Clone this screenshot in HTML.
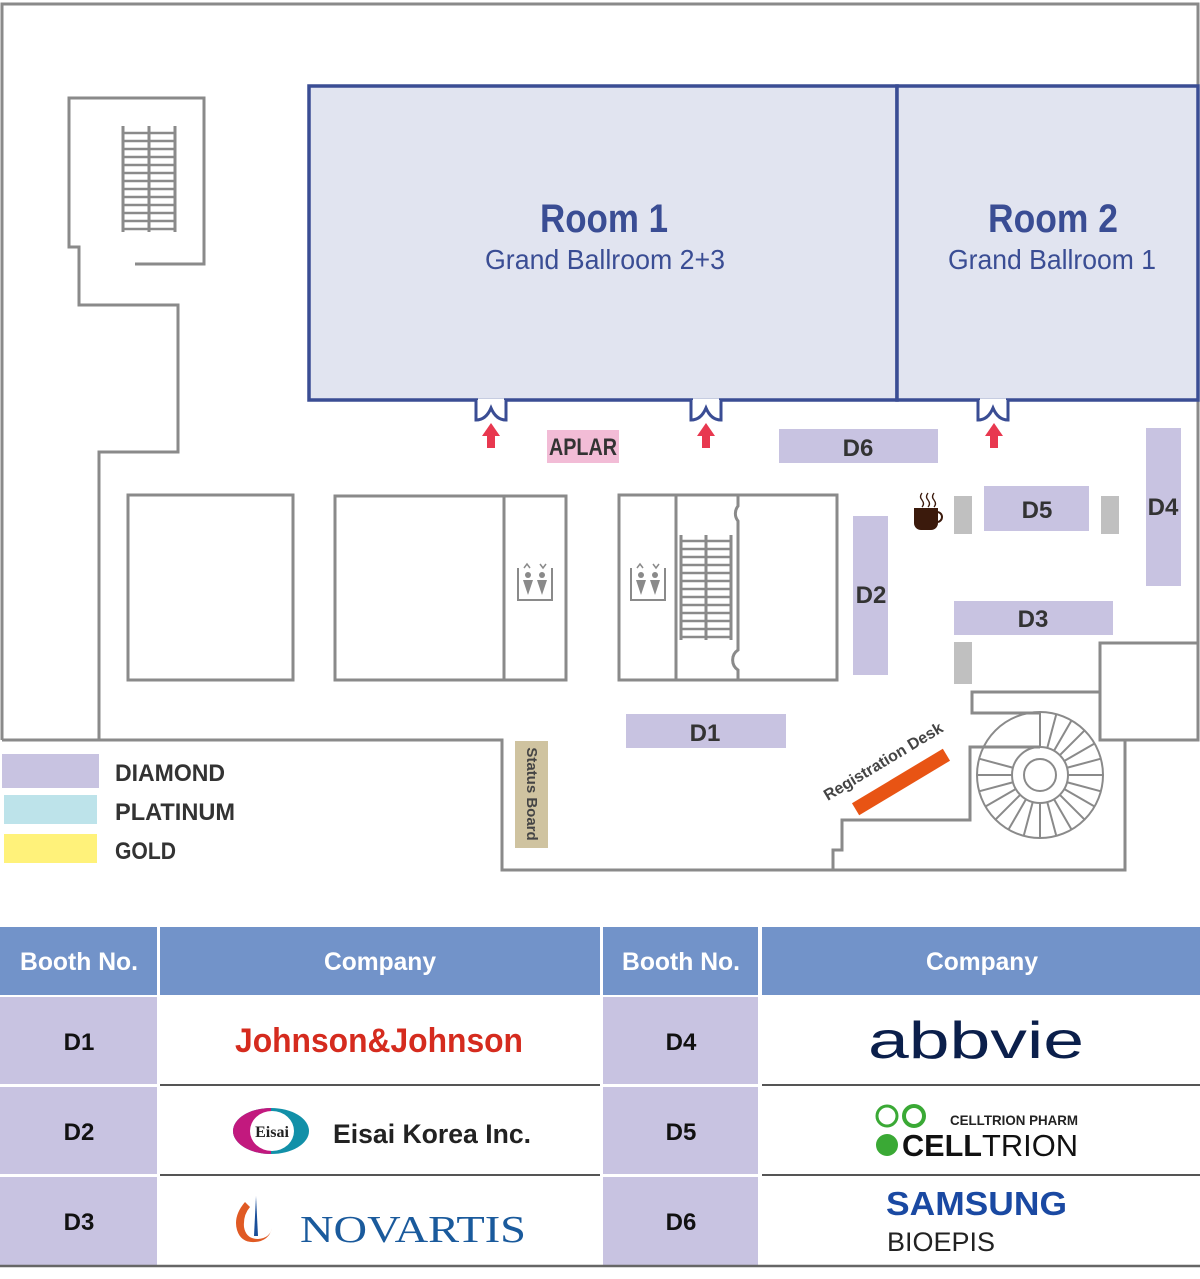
<!DOCTYPE html>
<html><head><meta charset="utf-8"><style>
html,body{margin:0;padding:0;background:#fff}
svg{display:block}
text{font-family:"Liberation Sans",sans-serif}
</style></head><body>
<svg width="1200" height="1279" viewBox="0 0 1200 1279" xmlns="http://www.w3.org/2000/svg">
<g fill="none" stroke="#8a8a8a" stroke-width="3">
<polyline points="2,740 2,4 1198,4 1198,643"/>
<polyline points="2,740 502,740 502,870 1125,870 1125,740"/>
<polyline points="135,264 204,264 204,98 69,98 69,247 79,247 79,305 178,305 178,452 99,452 99,740"/>
<rect x="128" y="495" width="165" height="185"/>
<rect x="335" y="496" width="231" height="184"/>
<line x1="504" y1="496" x2="504" y2="680"/>
<path d="M738,495 H619 V680 H738 V670 A12,12 0 0 1 738,650 V521 A12,12 0 0 1 738,506 Z"/>
<path d="M738,495 H837 V680 H738"/>
<line x1="676" y1="495" x2="676" y2="680"/>
<rect x="1100" y="643" width="98" height="97"/>
<polyline points="1100,692 972,692 972,713 1040,713"/>
<polyline points="833,870 833,850 842,850 842,820 970,820 970,747 1040,747"/>
</g>
<g stroke="#8a8a8a" stroke-width="3">
<line x1="123" y1="126" x2="123" y2="232"/><line x1="149" y1="126" x2="149" y2="232"/><line x1="175" y1="126" x2="175" y2="232"/>
<path d="M123,133H175M123,141H175M123,149H175M123,157H175M123,165H175M123,173H175M123,181H175M123,189H175M123,197H175M123,205H175M123,213H175M123,221H175M123,229H175" stroke-width="2.5"/>
<line x1="681" y1="535" x2="681" y2="640"/><line x1="706" y1="535" x2="706" y2="640"/><line x1="731" y1="535" x2="731" y2="640"/>
<path d="M681,541H731M681,549H731M681,557H731M681,565H731M681,573H731M681,581H731M681,589H731M681,597H731M681,605H731M681,613H731M681,621H731M681,629H731M681,637H731" stroke-width="2.5"/>
</g>
<g fill="none" stroke="#8a8a8a" stroke-width="2">
<circle cx="1040" cy="775" r="63"/><circle cx="1040" cy="775" r="16"/><circle cx="1040" cy="775" r="28"/>
<g id="sp">
<line x1="1068" y1="775" x2="1103" y2="775"/>
</g>
<use href="#sp" transform="rotate(15 1040 775)"/><use href="#sp" transform="rotate(30 1040 775)"/><use href="#sp" transform="rotate(45 1040 775)"/><use href="#sp" transform="rotate(60 1040 775)"/><use href="#sp" transform="rotate(75 1040 775)"/><use href="#sp" transform="rotate(90 1040 775)"/><use href="#sp" transform="rotate(105 1040 775)"/><use href="#sp" transform="rotate(120 1040 775)"/><use href="#sp" transform="rotate(135 1040 775)"/><use href="#sp" transform="rotate(150 1040 775)"/><use href="#sp" transform="rotate(165 1040 775)"/><use href="#sp" transform="rotate(180 1040 775)"/><use href="#sp" transform="rotate(195 1040 775)"/><use href="#sp" transform="rotate(-15 1040 775)"/><use href="#sp" transform="rotate(-30 1040 775)"/><use href="#sp" transform="rotate(-45 1040 775)"/><use href="#sp" transform="rotate(-60 1040 775)"/><use href="#sp" transform="rotate(-75 1040 775)"/><use href="#sp" transform="rotate(-90 1040 775)"/>
</g>
<rect x="309" y="86" width="588" height="314" fill="#e1e4f0" stroke="#3a4d94" stroke-width="3.5"/>
<rect x="897" y="86" width="301" height="314" fill="#e1e4f0" stroke="#3a4d94" stroke-width="3.5"/>
<g fill="#fff" stroke="#3a4d94" stroke-width="3">
<path d="M476,400 V420 Q486,420 491,408 Q496,420 506,420 V400"/>
<path d="M691,400 V420 Q701,420 706,408 Q711,420 721,420 V400"/>
<path d="M978,400 V420 Q988,420 993,408 Q998,420 1008,420 V400"/>
</g>
<line x1="478" y1="400" x2="504" y2="400" stroke="#fff" stroke-width="3"/>
<line x1="693" y1="400" x2="719" y2="400" stroke="#fff" stroke-width="3"/>
<line x1="980" y1="400" x2="1006" y2="400" stroke="#fff" stroke-width="3"/>
<g fill="#e8384f">
<path d="M491,423 L500,436 H495 V448 H487 V436 H482 Z"/>
<path d="M706,423 L715,436 H710 V448 H702 V436 H697 Z"/>
<path d="M994,423 L1003,436 H998 V448 H990 V436 H985 Z"/>
</g>
<g fill="#3a4d94" text-anchor="middle">
<text x="604" y="232" font-size="40" font-weight="bold" textLength="128" lengthAdjust="spacingAndGlyphs">Room 1</text>
<text x="605" y="269" font-size="28" textLength="240" lengthAdjust="spacingAndGlyphs">Grand Ballroom 2+3</text>
<text x="1053" y="232" font-size="40" font-weight="bold" textLength="130" lengthAdjust="spacingAndGlyphs">Room 2</text>
<text x="1052" y="269" font-size="28" textLength="208" lengthAdjust="spacingAndGlyphs">Grand Ballroom 1</text>
</g>
<rect x="547" y="430" width="72" height="33" fill="#f2bcd6"/>
<g fill="#c8c3e1">
<rect x="779" y="429" width="159" height="34"/>
<rect x="853" y="516" width="35" height="159"/>
<rect x="984" y="486" width="105" height="45"/>
<rect x="1146" y="428" width="35" height="158"/>
<rect x="954" y="601" width="159" height="34"/>
<rect x="626" y="714" width="160" height="34"/>
<rect x="2" y="754" width="97" height="34"/>
</g>
<rect x="4" y="795" width="93" height="29" fill="#bde3ea"/>
<rect x="4" y="834" width="93" height="29" fill="#fff27a"/>
<g fill="#c0c0c0">
<rect x="954" y="496" width="18" height="38"/><rect x="1101" y="496" width="18" height="38"/><rect x="954" y="642" width="18" height="42"/>
</g>
<rect x="515" y="741" width="33" height="107" fill="#cfc3a0"/>
<text transform="translate(527,794) rotate(90)" font-size="15" font-weight="bold" fill="#444" text-anchor="middle">Status Board</text>
<g font-weight="bold" fill="#333" text-anchor="middle" font-size="24">
<text x="583" y="455" textLength="68" lengthAdjust="spacingAndGlyphs">APLAR</text>
<text x="858" y="456">D6</text>
<text x="871" y="603">D2</text>
<text x="1037" y="518">D5</text>
<text x="1163" y="515">D4</text>
<text x="1033" y="627">D3</text>
<text x="705" y="741">D1</text>
</g>
<g font-weight="bold" fill="#333" font-size="24">
<text x="115" y="781" textLength="110" lengthAdjust="spacingAndGlyphs">DIAMOND</text>
<text x="115" y="820" textLength="120" lengthAdjust="spacingAndGlyphs">PLATINUM</text>
<text x="115" y="859" textLength="61" lengthAdjust="spacingAndGlyphs">GOLD</text>
</g>
<rect x="848" y="775" width="106" height="14" fill="#e85414" transform="rotate(-31 901 782)"/>
<text transform="translate(886,766) rotate(-31)" font-size="16" font-weight="bold" fill="#444" text-anchor="middle">Registration Desk</text>
<g>
<path d="M915,509 h22 v14 a6,6 0 0 1 -6,6 h-10 a6,6 0 0 1 -6,-6 z" fill="#3b1a0c" stroke="#3b1a0c" stroke-width="2"/>
<path d="M937,512 a5,5 0 0 1 0,10" fill="none" stroke="#3b1a0c" stroke-width="2"/>
<path d="M922,493 q-3,4 0,7 q3,4 0,7 M928,493 q-3,4 0,7 q3,4 0,7 M934,493 q-3,4 0,7 q3,4 0,7" fill="none" stroke="#3b1a0c" stroke-width="1.3"/>
</g>
<g id="elev" stroke="#8a8a8a" fill="#8a8a8a">
<path d="M518,568 V600 H552 V568" fill="none" stroke-width="2"/>
<path d="M524,568 l3,-4 l3,4 M540,564 l3,4 l3,-4" fill="none" stroke-width="1.5"/>
<circle cx="528" cy="575" r="3" stroke="none"/><circle cx="542" cy="575" r="3" stroke="none"/>
<path d="M523,580 h10 l-5,15z M537,580 h10 l-5,15z" stroke="none"/>
</g>
<use href="#elev" transform="translate(113,0)"/>
<rect x="0" y="927" width="157" height="68" fill="#7293c9"/>
<rect x="160" y="927" width="440" height="68" fill="#7293c9"/>
<rect x="603" y="927" width="155" height="68" fill="#7293c9"/>
<rect x="762" y="927" width="438" height="68" fill="#7293c9"/>
<g fill="#c8c3e1">
<rect x="0" y="997" width="157" height="87"/><rect x="0" y="1087" width="157" height="87"/><rect x="0" y="1177" width="157" height="88"/>
<rect x="603" y="997" width="155" height="87"/><rect x="603" y="1087" width="155" height="87"/><rect x="603" y="1177" width="155" height="88"/>
</g>
<g stroke="#555" stroke-width="2">
<line x1="160" y1="1085" x2="600" y2="1085"/><line x1="160" y1="1175" x2="600" y2="1175"/>
<line x1="762" y1="1085" x2="1200" y2="1085"/><line x1="762" y1="1175" x2="1200" y2="1175"/>
<line x1="0" y1="1266" x2="1200" y2="1266" stroke="#666" stroke-width="2.5"/>
</g>
<g fill="#fff" font-weight="bold" font-size="25" text-anchor="middle">
<text x="79" y="970" textLength="118" lengthAdjust="spacingAndGlyphs">Booth No.</text>
<text x="380" y="970" textLength="112" lengthAdjust="spacingAndGlyphs">Company</text>
<text x="681" y="970" textLength="118" lengthAdjust="spacingAndGlyphs">Booth No.</text>
<text x="982" y="970" textLength="112" lengthAdjust="spacingAndGlyphs">Company</text>
</g>
<g fill="#111" font-weight="bold" font-size="24" text-anchor="middle">
<text x="79" y="1050">D1</text><text x="79" y="1140">D2</text><text x="79" y="1230">D3</text>
<text x="681" y="1050">D4</text><text x="681" y="1140">D5</text><text x="681" y="1230">D6</text>
</g>
<text x="379" y="1052" font-size="34" font-weight="bold" fill="#d52b1e" text-anchor="middle" textLength="288" lengthAdjust="spacingAndGlyphs">Johnson&amp;Johnson</text>
<ellipse cx="271" cy="1131" rx="38" ry="23" fill="#1290a8"/>
<path d="M271,1108 a38,23 0 0 0 0,46 z" fill="#c2197e"/>
<ellipse cx="272" cy="1131" rx="22" ry="20" fill="#fff"/>
<text x="272" y="1137" style="font-family:'Liberation Serif',serif" font-weight="bold" font-size="16" text-anchor="middle" fill="#222">Eisai</text>
<text x="333" y="1143" font-size="27" font-weight="bold" fill="#222" textLength="198" lengthAdjust="spacingAndGlyphs">Eisai Korea Inc.</text>
<path d="M245,1202 q-12,14 -8,28 q4,13 18,12 q14,-1 17,-14 q-2,10 -14,11 q-12,0 -14,-12 q-1,-12 6,-20z" fill="#e05a24"/>
<path d="M256,1196 l2,40 h-4 z" fill="#1a4f9a"/>
<text x="300" y="1242" style="font-family:'Liberation Serif',serif" font-size="38" fill="#1a5a9c" textLength="226" lengthAdjust="spacingAndGlyphs">NOVARTIS</text>
<text x="976" y="1058" font-size="52" fill="#0b1f4b" text-anchor="middle" textLength="216" lengthAdjust="spacingAndGlyphs">abbvie</text>
<circle cx="887" cy="1116" r="10" fill="none" stroke="#3aa935" stroke-width="3"/>
<circle cx="914" cy="1116" r="10" fill="none" stroke="#3aa935" stroke-width="4"/>
<circle cx="887" cy="1145" r="11" fill="#3aa935"/>
<text x="950" y="1125" font-size="14" font-weight="bold" fill="#222" textLength="128" lengthAdjust="spacingAndGlyphs">CELLTRION PHARM</text>
<text x="902" y="1156" font-size="31" font-weight="bold" fill="#111" textLength="80" lengthAdjust="spacingAndGlyphs">CELL</text>
<text x="982" y="1156" font-size="31" fill="#111" textLength="96" lengthAdjust="spacingAndGlyphs">TRION</text>
<text x="886" y="1215" font-size="33" font-weight="bold" fill="#1a49a2" textLength="181" lengthAdjust="spacingAndGlyphs">SAMSUNG</text>
<text x="887" y="1251" font-size="27" fill="#222" textLength="108" lengthAdjust="spacingAndGlyphs">BIOEPIS</text>
</svg>
</body></html>
